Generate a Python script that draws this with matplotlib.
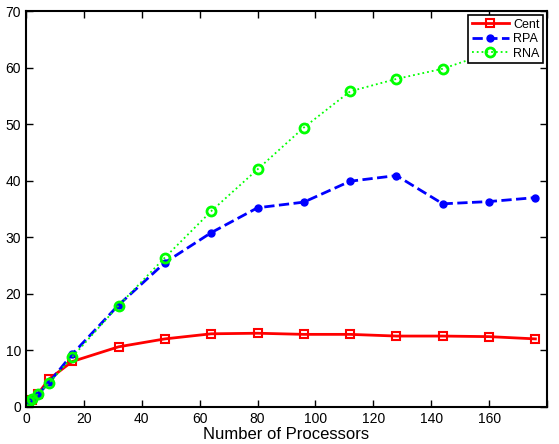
import matplotlib.pyplot as plt

plt.rcParams['font.family'] = ['Liberation Sans', 'DejaVu Sans']

procs = [1, 2, 4, 8, 16, 32, 48, 64, 80, 96, 112, 128, 144, 160, 176]
cent = [1.0, 1.2, 2.2, 4.9, 8.0, 10.6, 12.0, 12.9, 13.0, 12.8, 12.8, 12.5, 12.5, 12.4, 12.0]
rpa = [1.0, 1.2, 2.1, 4.3, 9.3, 18.0, 25.5, 30.8, 35.2, 36.2, 39.9, 40.9, 35.9, 36.3, 37.0]
rna = [1.0, 1.3, 2.2, 4.2, 8.8, 17.9, 26.4, 34.6, 42.0, 49.4, 55.8, 58.0, 59.8, 62.6, 64.5]

fig = plt.figure(figsize=(5.59, 4.44), dpi=100)
ax = fig.add_axes([0.0465, 0.084, 0.932, 0.891])

ax.plot(procs, cent, color='red', linestyle='-', linewidth=2, marker='s',
        markersize=5.5, markerfacecolor='none', markeredgewidth=1.5, label='Cent')
ax.plot(procs, rpa, color='blue', linestyle='--', linewidth=2, marker='o',
        markersize=5, markerfacecolor='blue', label='RPA')
ax.plot(procs, rna, color='#00ff00', linestyle=':', linewidth=1.3, marker='o',
        markersize=6.5, markerfacecolor='none', markeredgewidth=2, label='RNA')

ax.set_xlim(0, 180)
ax.set_ylim(0, 70)
ax.set_xticks(range(0, 181, 20))
ax.set_xticklabels(['0', '20', '40', '60', '80', '100', '120', '140', '160', ''])
ax.set_yticks(range(0, 71, 10))
ax.tick_params(direction='in', top=True, right=True, labelsize=10, length=5, width=1)
for spine in ax.spines.values():
    spine.set_linewidth(1.5)

ax.set_xlabel('Number of Processors', fontsize=12, labelpad=1)

leg = ax.legend(loc='upper right', fontsize=9, fancybox=False, framealpha=1,
                edgecolor='black', borderpad=0.3, labelspacing=0.2,
                handlelength=3, handletextpad=0.3, borderaxespad=0.3)
leg.get_frame().set_linewidth(1.2)
leg.set_zorder(5)

fig.savefig('out.png', dpi=100)
